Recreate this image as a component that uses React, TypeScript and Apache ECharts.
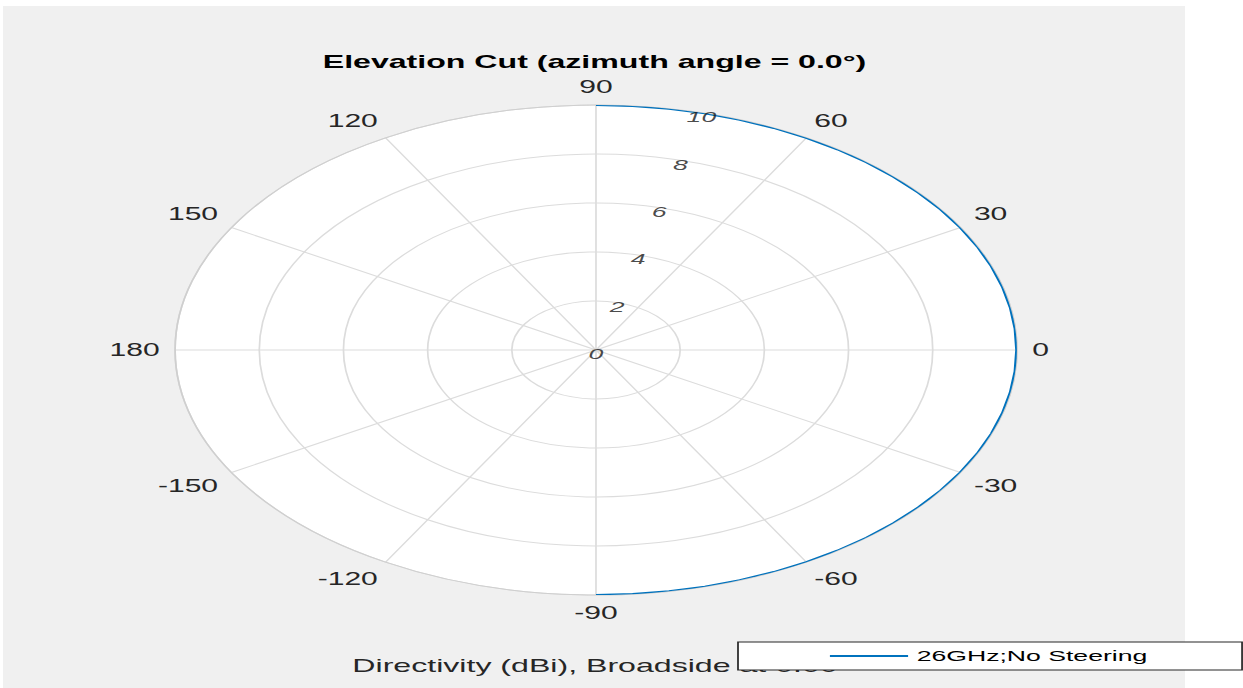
import { useEffect, useRef } from 'react';
import * as echarts from 'echarts';

// Elevation cut of the antenna directivity pattern (dBi), sampled every 5°.
const elevationAngles = [
  -90, -85, -80, -75, -70, -65, -60, -55, -50, -45, -40, -35, -30, -25, -20, -15, -10, -5, 0,
  5, 10, 15, 20, 25, 30, 35, 40, 45, 50, 55, 60, 65, 70, 75, 80, 85, 90,
];
const directivity = [
  10, 10, 10, 10, 10, 10, 10, 10, 10, 10, 10, 10, 10, 10, 10, 10, 10, 10, 10,
  10, 10, 10, 10, 10, 10, 10, 10, 10, 10, 10, 10, 10, 10, 10, 10, 10, 10,
];
const radialTicks = [0, 2, 4, 6, 8, 10];
const seriesName = '26GHz;No Steering';
const chartTitle = 'Elevation Cut (azimuth angle = 0.0°)';
const bottomCaption = 'Directivity (dBi), Broadside at 0.00';

// The figure is drawn in a narrower frame and stretched horizontally.
const SX = 1.718;
const FRAME_W = 724;
const FRAME_H = 688;
const ux = (x: number) => x / SX;
const FONT = '"Liberation Sans", Arial, Helvetica, sans-serif';

const CENTER_X = ux(596);
const CENTER_Y = 350;
const RADIUS = 245;

export default function App() {
  const ref = useRef<HTMLDivElement>(null);

  useEffect(() => {
    if (!ref.current) return;
    const chart = echarts.init(ref.current, undefined, { renderer: 'svg' });
    chart.setOption({
      animation: false,
      backgroundColor: '#ffffff',
      textStyle: { fontFamily: FONT },
      graphic: [
        {
          type: 'rect',
          z: -10,
          silent: true,
          shape: { x: ux(3), y: 6, width: ux(1182), height: 682 },
          style: { fill: '#f0f0f0' },
        },
        {
          // white face of the polar axes
          type: 'circle',
          z: -9,
          silent: true,
          shape: { cx: CENTER_X, cy: CENTER_Y, r: RADIUS },
          style: { fill: '#ffffff' },
        },
        {
          type: 'text',
          z: 10,
          style: {
            text: chartTitle,
            x: ux(594.5),
            y: 62,
            align: 'center',
            verticalAlign: 'middle',
            textAlign: 'center',
            textVerticalAlign: 'middle',
            fontSize: 18.7,
            fontWeight: 'bold',
            fontFamily: FONT,
            fill: '#000000',
          },
        },
        {
          type: 'text',
          z: 1,
          style: {
            text: bottomCaption,
            x: ux(595),
            y: 666,
            align: 'center',
            verticalAlign: 'middle',
            textAlign: 'center',
            textVerticalAlign: 'middle',
            fontSize: 18.7,
            fontFamily: FONT,
            fill: '#262626',
          },
        },
      ],
      polar: { center: [CENTER_X, CENTER_Y], radius: RADIUS },
      angleAxis: {
        type: 'value',
        min: -180,
        max: 180,
        interval: 30,
        startAngle: 180,
        clockwise: false,
        axisLine: { show: true, lineStyle: { color: '#cfcfcf', width: 1 } },
        axisTick: { show: false },
        axisLabel: {
          margin: 9,
          fontSize: 17.5,
          color: '#262626',
          fontFamily: FONT,
          formatter: (v: number) => (Math.abs(v) === 180 ? '180' : String(v)),
        },
        splitLine: { show: true, lineStyle: { color: '#dcdcdc', width: 1 } },
      },
      radiusAxis: {
        type: 'value',
        min: 0,
        max: 10,
        interval: 2,
        axisLine: { show: false },
        axisTick: { show: false },
        axisLabel: { show: false },
        splitLine: { show: true, lineStyle: { color: '#dcdcdc', width: 1 } },
      },
      legend: {
        data: [{ name: seriesName, icon: 'rect' }],
        left: ux(738),
        top: 642,
        z: 20,
        padding: [6, 55, 6, 53.5],
        itemWidth: 45.5,
        itemHeight: 1.8,
        backgroundColor: '#ffffff',
        borderColor: '#262626',
        borderWidth: 1,
        borderRadius: 0,
        itemStyle: { color: '#0072bd' },
        textStyle: { fontSize: 15.5, lineHeight: 16, color: '#000000', fontFamily: FONT },
      },
      series: [
        {
          name: seriesName,
          type: 'line',
          coordinateSystem: 'polar',
          data: elevationAngles.map((a, i) => [directivity[i], a]),
          symbol: 'none',
          showSymbol: false,
          lineStyle: { color: '#0072bd', width: 2 },
          itemStyle: { color: '#0072bd' },
          z: 3,
        },
        {
          name: 'radial tick labels',
          type: 'scatter',
          coordinateSystem: 'polar',
          data: radialTicks.map((r) => [r, 75.5]),
          symbolSize: 1,
          silent: true,
          itemStyle: { color: 'rgba(0,0,0,0)' },
          label: {
            show: true,
            position: 'inside',
            offset: [0, 4],
            formatter: (p: any) => String(p.value[0]),
            fontStyle: 'italic',
            fontSize: 15.5,
            color: '#1a1a1a',
            fontFamily: FONT,
          },
          z: 4,
        },
      ],
    });
    return () => chart.dispose();
  }, []);

  return (
    <div
      style={{
        position: 'fixed',
        left: 0,
        top: 0,
        width: 1243,
        height: 688,
        overflow: 'hidden',
        background: '#ffffff',
      }}
    >
      <div
        ref={ref}
        style={{
          width: FRAME_W,
          height: FRAME_H,
          transform: `scaleX(${SX})`,
          transformOrigin: '0 0',
        }}
      />
    </div>
  );
}
